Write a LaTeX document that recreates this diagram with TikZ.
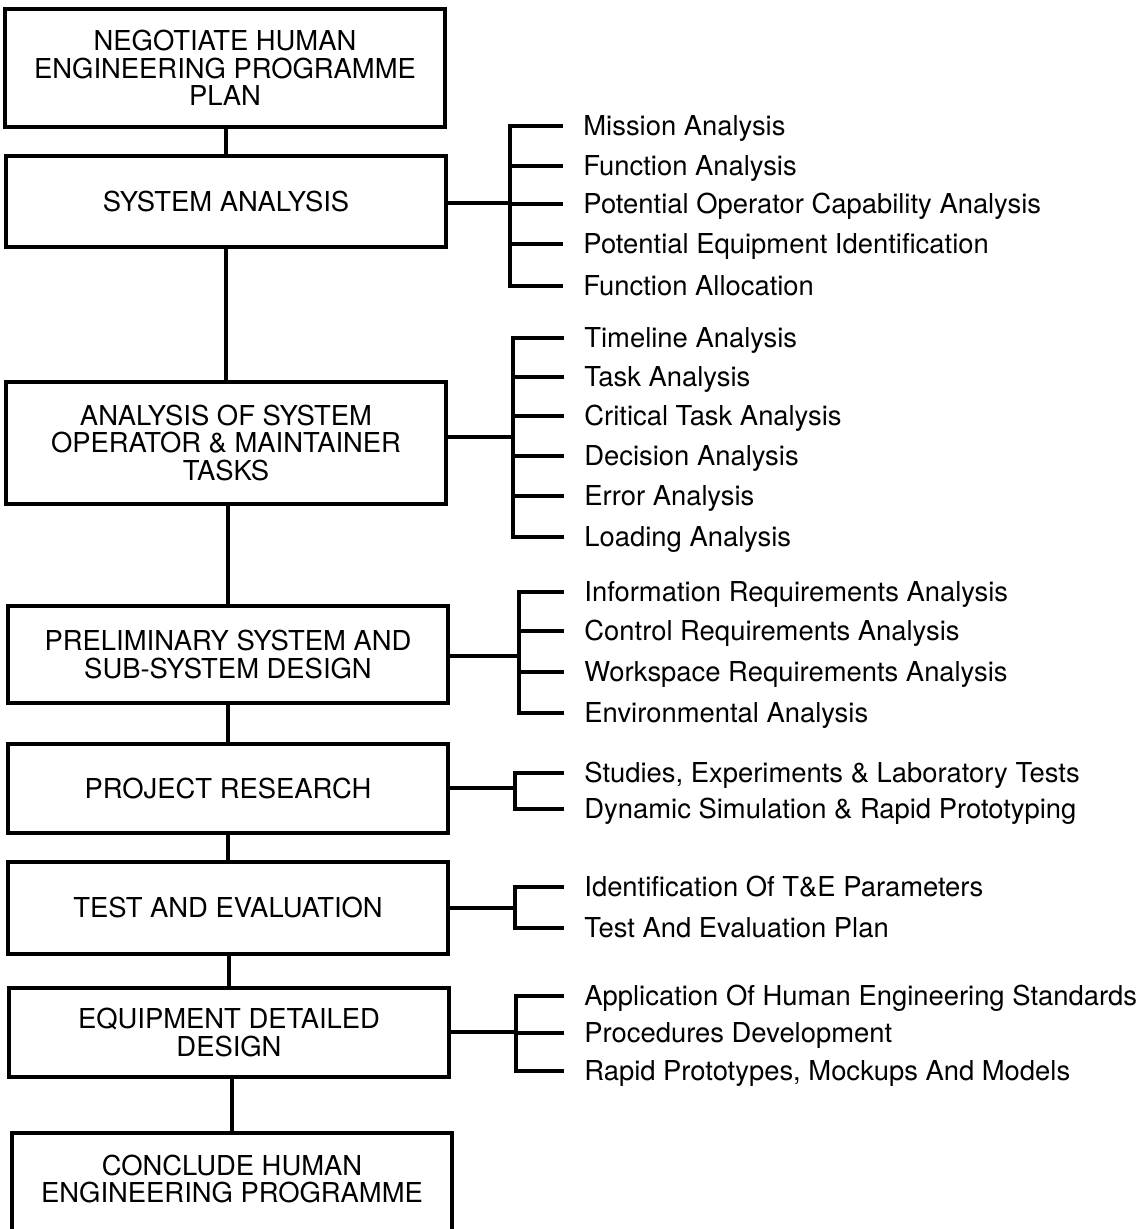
\documentclass[tikz,border=0pt]{standalone}
\usepackage{fontspec}
\setmainfont{TeX Gyre Heros}
\usetikzlibrary{positioning}

\tikzset{
  stage/.style={rectangle, draw, line width=1.6pt, outer sep=0pt, minimum width=220pt, align=center, font=\fontsize{13.7}{13.75}\selectfont},
  item/.style={anchor=west, inner sep=0pt, text height=9.9pt, text depth=0pt, font=\fontsize{13.7}{13.75}\selectfont},
  link/.style={line width=1.6pt, line cap=rect}
}

\begin{document}
\begin{tikzpicture}[x=0.5pt, y=-0.5pt]
\useasboundingbox (0,0) rectangle (1139,1229);

% the programme stages
\node[stage, minimum height=59pt] (neg) at (225,68) {NEGOTIATE HUMAN\\ENGINEERING PROGRAMME\\PLAN};
\node[stage, below=14.5pt of neg, xshift=0.5pt, minimum height=45.5pt] (sys) {SYSTEM ANALYSIS};
\node[stage, below=67.5pt of sys, minimum height=61pt] (tasks) {ANALYSIS OF SYSTEM\\OPERATOR \& MAINTAINER\\TASKS};
\node[stage, below=51pt of tasks, xshift=1pt, minimum height=48.5pt] (prelim) {PRELIMINARY SYSTEM AND\\SUB-SYSTEM DESIGN};
\node[stage, below=20.5pt of prelim, minimum height=44.5pt] (research) {PROJECT RESEARCH};
\node[stage, below=14.5pt of research, minimum height=46pt] (test) {TEST AND EVALUATION};
\node[stage, below=17pt of test, xshift=0.5pt, minimum height=44.5pt] (equip) {EQUIPMENT DETAILED\\DESIGN};
\node[stage, below=28pt of equip, xshift=1.5pt, inner ysep=11pt, text depth=60pt] (concl) {CONCLUDE HUMAN\\ENGINEERING PROGRAMME};

\draw[link] (sys.north) -- (sys.north |- neg.south);
\draw[link] (tasks.north) -- (tasks.north |- sys.south);
\draw[link] (prelim.north) -- (prelim.north |- tasks.south);
\draw[link] (research.north) -- (research.north |- prelim.south);
\draw[link] (test.north) -- (test.north |- research.south);
\draw[link] (equip.north) -- (equip.north |- test.south);
\draw[link] (concl.north) -- (concl.north |- equip.south);

% system analysis
\node[item] (mission) at (583,126) {Mission Analysis};
\node[item] (funct) at (583,166) {Function Analysis};
\node[item] (capab) at (583,204) {Potential Operator Capability Analysis};
\node[item] (equipid) at (583,244) {Potential Equipment Identification};
\node[item] (alloc) at (583,286) {Function Allocation};
\coordinate (j1) at (510,203);
\draw[link] (j1 -| sys.east) -- (j1)
  (j1 |- mission) -- (j1 |- alloc)
  (j1 |- mission) -- ([xshift=-11pt]mission.west)
  (j1 |- funct) -- ([xshift=-11pt]funct.west)
  (j1 |- capab) -- ([xshift=-11pt]capab.west)
  (j1 |- equipid) -- ([xshift=-11pt]equipid.west)
  (j1 |- alloc) -- ([xshift=-11pt]alloc.west);

% operator and maintainer tasks
\node[item] (timeline) at (584,338) {Timeline Analysis};
\node[item] (task) at (584,377) {Task Analysis};
\node[item] (critical) at (584,416) {Critical Task Analysis};
\node[item] (decision) at (584,456) {Decision Analysis};
\node[item] (error) at (584,496) {Error Analysis};
\node[item] (loading) at (584,537) {Loading Analysis};
\coordinate (j2) at (513,437);
\draw[link] (j2 -| tasks.east) -- (j2)
  (j2 |- timeline) -- (j2 |- loading)
  (j2 |- timeline) -- ([xshift=-11pt]timeline.west)
  (j2 |- task) -- ([xshift=-11pt]task.west)
  (j2 |- critical) -- ([xshift=-11pt]critical.west)
  (j2 |- decision) -- ([xshift=-11pt]decision.west)
  (j2 |- error) -- ([xshift=-11pt]error.west)
  (j2 |- loading) -- ([xshift=-11pt]loading.west);

% preliminary design
\node[item] (inform) at (584,592) {Information Requirements Analysis};
\node[item] (control) at (584,631) {Control Requirements Analysis};
\node[item] (workspace) at (584,672) {Workspace Requirements Analysis};
\node[item] (environ) at (584,713) {Environmental Analysis};
\coordinate (j3) at (519,656);
\draw[link] (j3 -| prelim.east) -- (j3)
  (j3 |- inform) -- (j3 |- environ)
  (j3 |- inform) -- ([xshift=-11pt]inform.west)
  (j3 |- control) -- ([xshift=-11pt]control.west)
  (j3 |- workspace) -- ([xshift=-11pt]workspace.west)
  (j3 |- environ) -- ([xshift=-11pt]environ.west);

% research
\node[item] (studies) at (584,773) {Studies, Experiments \& Laboratory Tests};
\node[item] (dynamic) at (584,809) {Dynamic Simulation \& Rapid Prototyping};
\coordinate (j4) at (515,788);
\draw[link] (j4 -| research.east) -- (j4)
  (j4 |- studies) -- (j4 |- dynamic)
  (j4 |- studies) -- ([xshift=-11pt]studies.west)
  (j4 |- dynamic) -- ([xshift=-11pt]dynamic.west);

% test and evaluation
\node[item] (params) at (584,887) {Identification Of T\&E Parameters};
\node[item] (plan) at (584,928) {Test And Evaluation Plan};
\coordinate (j5) at (515,908);
\draw[link] (j5 -| test.east) -- (j5)
  (j5 |- params) -- (j5 |- plan)
  (j5 |- params) -- ([xshift=-11pt]params.west)
  (j5 |- plan) -- ([xshift=-11pt]plan.west);

% detailed design
\node[item] (standards) at (584,996) {Application Of Human Engineering Standards};
\node[item] (proced) at (584,1033) {Procedures Development};
\node[item] (mockups) at (584,1071) {Rapid Prototypes, Mockups And Models};
\coordinate (j6) at (516,1032);
\draw[link] (j6 -| equip.east) -- (j6)
  (j6 |- standards) -- (j6 |- mockups)
  (j6 |- standards) -- ([xshift=-11pt]standards.west)
  (j6 |- proced) -- ([xshift=-11pt]proced.west)
  (j6 |- mockups) -- ([xshift=-11pt]mockups.west);
\end{tikzpicture}
\end{document}
